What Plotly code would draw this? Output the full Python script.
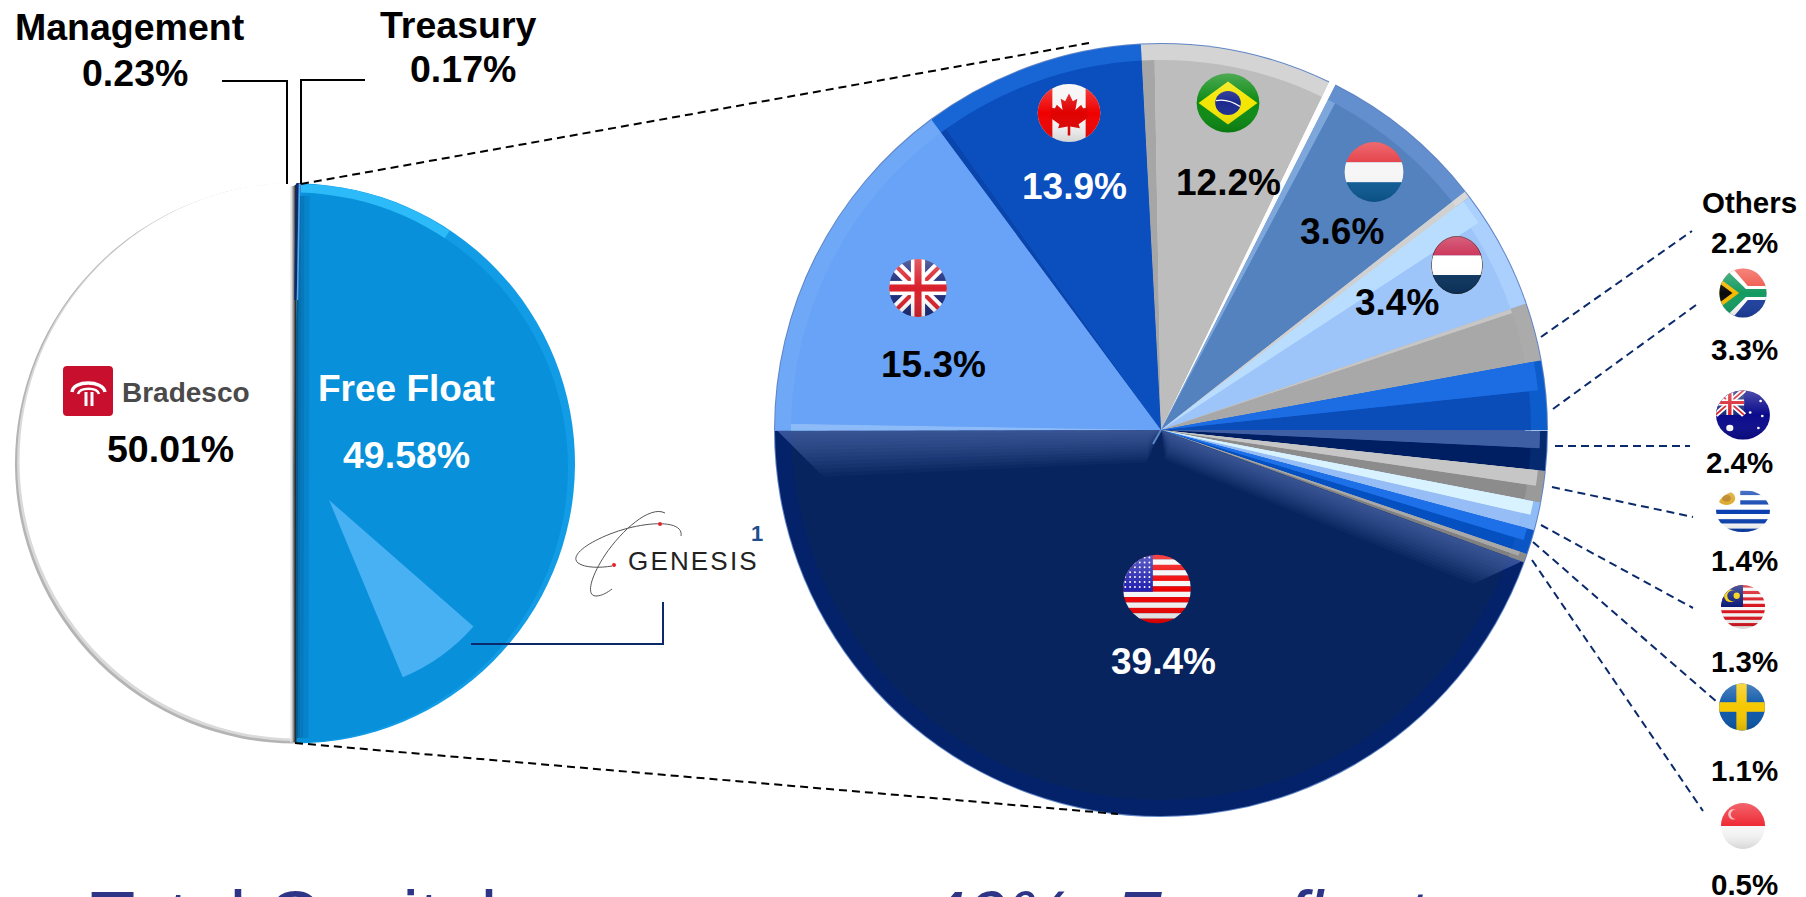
import base64
import math
import plotly.graph_objects as go

W, H = 1806, 897

# ---------- data ----------
ownership_names = ["Free Float", "Bradesco", "Management", "Treasury"]
ownership_shares = [49.58, 50.01, 0.23, 0.17]

# arc widths as drawn (percent of the circle) - the printed labels differ from the drawn arcs
country_names = ["Brazil", "gap a", "Luxembourg", "gap b", "Netherlands", "Others", "South Africa",
                 "Australia", "Uruguay", "Malaysia", "Sweden", "Singapore", "USA", "UK", "Canada"]
country_arcs = [8.0, 0.28, 6.97, 0.28, 5.0, 2.42, 2.89, 1.69, 1.31, 1.17, 1.03, 0.36, 44.4, 14.9, 9.3]
rim_colors = ["#D4D4D4", "#FFFFFF", "#648FCE", "#D8D8D8", "#ABD0FE", "#ABABAB", "#0D5CCC",
              "#062A70", "#9A9A9A", "#8FBBF6", "#0B55C4", "#8A8A8A", "#04226A", "#6EA8F6", "#1866D6"]
face_colors = ["#BDBDBD", "#FFFFFF", "#5482BF", "#D0D0D0", "#9EC5FA", "#A8A8A8", "#0A4DB8",
               "#001F63", "#8C8C8C", "#96BDF5", "#0550C0", "#808080", "#07245F", "#69A3F7", "#0A4FBD"]
# leading part of each face with a lit bevel: (fraction, colour)
lit_fraction = [0.07, 0, 0.05, 0, 0.22, 0.08, 0.42, 0.45, 0.5, 0.5, 0.5, 0.5, 0, 0.02, 0.03]
lit_colors = ["#A6A6A6", "#FFFFFF", "#7DA6DB", "#D0D0D0", "#B9DDFF", "#C6C6C6", "#1C6CE4",
              "#3F5FA5", "#C6C6C6", "#D8F2FF", "#1E70E8", "#A8A8A8", "#07245F", "#8DBBF8", "#0A45AE"]

pie_labels = ["15.3%", "13.9%", "12.2%", "3.6%", "3.4%", "39.4%"]
pie_label_x = [933, 1074, 1228, 1342, 1397, 1163]
pie_label_y = [364, 186, 182, 231, 302, 661]
pie_label_colors = ["#000000", "#FFFFFF", "#000000", "#000000", "#000000", "#FFFFFF"]

side_labels = ["Others", "2.2%", "3.3%", "2.4%", "1.4%", "1.3%", "1.1%", "0.5%"]
side_label_x = [1749, 1744, 1744, 1739, 1744, 1744, 1744, 1744]
side_label_y = [202, 242, 349, 462, 560, 661, 770, 884]

flag_names = ["uk", "ca", "br", "lu", "nl", "us", "za", "au", "uy", "my", "se", "sg"]
flag_x = [918, 1069, 1228, 1374, 1457, 1157, 1743, 1743, 1743, 1743, 1742, 1743]
flag_y = [288, 113, 103, 172, 265, 589, 293, 415, 511, 607, 707, 826]
flag_w = [59, 64, 64, 60, 53, 69, 48, 55, 55, 45, 47, 45]
flag_h = [59, 59, 60, 61, 59, 70, 50, 50, 43, 45, 48, 47]

leader_x0 = [1541, 1553, 1555, 1552, 1541, 1533, 1532]
leader_y0 = [337, 409, 446, 487, 525, 542, 560]
leader_x1 = [1692, 1696, 1690, 1693, 1693, 1718, 1703]
leader_y1 = [231, 305, 446, 517, 608, 703, 811]

# ---------- helpers ----------
ROT_R = -3.0      # right pie starts at Brazil, slightly left of 12 o'clock
RC = (1161, 430)  # right pie centre
R = 387
LC = (295, 463.5) # left pie centre
LR = 280
CLEAR = "rgba(0,0,0,0)"


def pie(values, colors, cx, cy, r, rotation, name):
    return go.Pie(values=values, labels=[f"{name} {i}" for i in range(len(values))],
                  marker=dict(colors=colors, line=dict(width=0)), sort=False, direction="clockwise",
                  rotation=rotation, textinfo="none", hoverinfo="skip", showlegend=False,
                  domain=dict(x=[(cx - r) / W, (cx + r) / W], y=[1 - (cy + r) / H, 1 - (cy - r) / H]))


def label(x, y, text, size, color="#000000", bold=True, italic=False, **kw):
    t = f"<b>{text}</b>" if bold else text
    if italic:
        t = f"<i>{t}</i>"
    return dict(x=x, y=y, xref="x", yref="y", text=t, showarrow=False,
                font=dict(family="Liberation Sans", size=size, color=color), **kw)


def svg_uri(body):
    svg = ('<svg xmlns="http://www.w3.org/2000/svg" viewBox="0 0 100 100" preserveAspectRatio="none">'
           '<defs><clipPath id="c"><ellipse cx="50" cy="50" rx="49" ry="49"/></clipPath>'
           '<linearGradient id="g" x1="0" y1="0" x2="0" y2="1">'
           '<stop offset="0" stop-color="#fff" stop-opacity=".28"/>'
           '<stop offset=".5" stop-color="#fff" stop-opacity="0"/>'
           '<stop offset="1" stop-color="#000" stop-opacity=".14"/></linearGradient></defs>'
           f'<g clip-path="url(#c)">{body}<rect width="100" height="100" fill="url(#g)"/></g></svg>')
    return "data:image/svg+xml;base64," + base64.b64encode(svg.encode()).decode()


def rect(x, y, w, h, c):
    return f'<rect x="{x}" y="{y}" width="{w}" height="{h}" fill="{c}"/>'


def union(w=100, h=100):
    sx, sy = w / 100, h / 100
    return (f'<g transform="scale({sx} {sy})">' + rect(0, 0, 100, 100, "#1B2A7A")
            + '<path d="M0 0L100 100M100 0L0 100" stroke="#fff" stroke-width="20"/>'
            + '<path d="M0 0L100 100M100 0L0 100" stroke="#D8202C" stroke-width="7"/>'
            + rect(38, 0, 24, 100, "#fff") + rect(0, 38, 100, 24, "#fff")
            + rect(44, 0, 12, 100, "#D8202C") + rect(0, 44, 100, 12, "#D8202C") + '</g>')


def stripes(n, a, b, x=0, w=100):
    return "".join(rect(x, i * 100 / n, w, 100 / n + .3, a if i % 2 == 0 else b) for i in range(n))


FLAGS = {
    "uk": union(),
    "ca": rect(0, 0, 100, 100, "#F5F5F5") + rect(0, 0, 24, 100, "#F00000") + rect(76, 0, 24, 100, "#F00000")
          + '<path d="M50 17L56 30L63 26L60 45L69 36L72 42L81 41L77 52L82 56L65 69L67 76L52 73V88H48V73L33 76L35 69'
            'L18 56L23 52L19 41L28 42L31 36L40 45L37 26L44 30Z" fill="#E00000"/>',
    "br": rect(0, 0, 100, 100, "#0B8A12") + '<path d="M50 14L96 50L50 86L4 50Z" fill="#F4E600"/>'
          + '<circle cx="50" cy="50" r="20" fill="#1C2A8E"/>'
            '<path d="M31 46Q50 42 69 56" stroke="#fff" stroke-width="2" fill="none"/>',
    "lu": rect(0, 0, 100, 34, "#E5333B") + rect(0, 34, 100, 33, "#F6F6F6") + rect(0, 67, 100, 33, "#0B5A94"),
    "nl": rect(0, 0, 100, 34, "#C8254C") + rect(0, 34, 100, 33, "#FFFFFF") + rect(0, 67, 100, 33, "#0A335F")
          + '<ellipse cx="50" cy="50" rx="48.5" ry="48.5" fill="none" stroke="#222" stroke-width="1.5"/>',
    "us": stripes(13, "#F00000", "#F6F6F6") + rect(0, 0, 44, 54, "#2323B0")
          + "".join(f'<circle cx="{4 + 7 * i}" cy="{5 + 7 * j}" r="1.4" fill="#fff"/>'
                    for i in range(6) for j in range(7)),
    "za": rect(0, 0, 100, 50, "#F0564A") + rect(0, 50, 100, 50, "#1C3E9E")
          + '<path d="M0 0H28L60 36H100V64H60L28 100H0Z" fill="#fff"/>'
            '<path d="M0 8H20L56 42H100V58H56L20 92H0Z" fill="#149A60"/>'
            '<path d="M0 20L42 50L0 80Z" fill="#F6B800"/><path d="M0 30L28 50L0 70Z" fill="#0A0A0A"/>',
    "au": rect(0, 0, 100, 100, "#0A0A8C") + union(52, 50)
          + "".join(f'<circle cx="{x}" cy="{y}" r="{r}" fill="#fff"/>'
                    for x, y, r in [(26, 76, 6.5), (63, 45, 2.5), (82, 22, 2.5), (85, 52, 2.5), (78, 76, 2.5)]),
    "uy": rect(0, 0, 100, 100, "#FFFFFF") + rect(45, 3, 55, 10, "#0A3FB0") + rect(45, 25, 55, 10, "#0A3FB0")
          + rect(0, 47, 100, 10, "#0A3FB0") + rect(0, 69, 100, 10, "#0A3FB0") + rect(0, 91, 100, 10, "#0A3FB0")
          + '<circle cx="20" cy="20" r="16" fill="#D9A21B"/><circle cx="20" cy="20" r="8" fill="#B5770F"/>',
    "my": stripes(14, "#D8141E", "#F6F6F6") + rect(0, 0, 50, 50, "#0A1A78")
          + '<circle cx="22" cy="25" r="14" fill="#F6D000"/><circle cx="27" cy="25" r="12" fill="#0A1A78"/>'
            '<circle cx="36" cy="25" r="7" fill="#F6D000"/>',
    "se": rect(0, 0, 100, 100, "#0B57A8") + rect(38, 0, 22, 100, "#F5C800") + rect(0, 40, 100, 20, "#F5C800"),
    "sg": rect(0, 0, 100, 50, "#EE2A35") + rect(0, 50, 100, 50, "#F6F6F6")
          + '<circle cx="28" cy="25" r="11" fill="#F7B5B5"/><circle cx="33" cy="25" r="10" fill="#EE2A35"/>',
}

BRADESCO = ('<svg xmlns="http://www.w3.org/2000/svg" viewBox="0 0 100 100" preserveAspectRatio="none">'
            '<rect width="100" height="100" rx="8" fill="#C8102E"/>'
            '<path d="M18 52C20 28 80 28 84 52" stroke="#fff" stroke-width="7" fill="none"/>'
            '<path d="M30 56C34 42 68 42 72 56" stroke="#fff" stroke-width="5" fill="none"/>'
            '<path d="M46 52V80M58 52V80" stroke="#fff" stroke-width="6"/></svg>')

# ---------- traces ----------
traces = [go.Scatter(x=[0, W], y=[0, H], mode="none", hoverinfo="skip", showlegend=False)]

# left pie: free float first, clockwise from just right of 12 o'clock
ROT_L = 1.2
traces.append(pie(ownership_shares, ["#129CE6", "#B4B4B4", "#0B2A6B", "#2F6FD0"], *LC, LR, ROT_L, "edge"))
traces.append(pie(ownership_shares, [CLEAR, "#DADADA", "#0B2A6B", "#2F6FD0"], LC[0] + 1, LC[1] - 1.5, LR - 1, ROT_L, "soft"))
traces.append(pie(ownership_shares, [CLEAR, "#FFFFFF", CLEAR, CLEAR], LC[0] + 2.5, LC[1] - 3, LR - 2, ROT_L, "white"))
# brighter top of the free float rim (drawn arc, percent of the circle)
traces.append(pie([9.0, 91.0], ["#2DBAF8", CLEAR], *LC, LR - 0.5, ROT_L, "glow"))
traces.append(pie(ownership_shares, ["#0890DA", CLEAR, CLEAR, CLEAR], LC[0] - 2, LC[1] + 4, LR - 5, ROT_L, "face"))
# Genesis stake, a lighter wedge on the free float
GEN_ROT = 131.2
traces.append(pie([7.28, 92.72], ["#48B1F4", CLEAR], 329, 500, 192, GEN_ROT, "genesis"))

# right pie: edge, bevel, then face with lit sub-wedges
traces.append(pie(country_arcs, ["#5F84C4" if c != "#FFFFFF" else c for c in rim_colors], *RC, R, ROT_R, "redge"))
traces.append(pie(country_arcs, rim_colors, *RC, R - 1, ROT_R, "rbevel"))
face_vals, face_cols = [], []
for v, f, fc, lc in zip(country_arcs, lit_fraction, face_colors, lit_colors):
    if f > 0:
        face_vals.append(v * f)
        face_cols.append(lc)
    face_vals.append(v * (1 - f))
    face_cols.append(fc)
traces.append(pie(face_vals, face_cols, *RC, R - 17, ROT_R, "rface"))
# the narrow lit wedges keep running out to the rim
rim_vals, rim_cols = [], []
for v, f, rc, lc in zip(country_arcs, lit_fraction, rim_colors, lit_colors):
    if 0.2 < f:
        rim_vals.append(v * f)
        rim_cols.append(lc)
        rim_vals.append(v * (1 - f))
        rim_cols.append(CLEAR)
    else:
        rim_vals.append(v)
        rim_cols.append(CLEAR)
traces.append(pie(rim_vals, rim_cols, *RC, R - 8, ROT_R, "rlit"))

fig = go.Figure(traces)

# ---------- shapes ----------
shapes = []


def line(x0, y0, x1, y1, color, width, dash="solid"):
    shapes.append(dict(type="line", xref="x", yref="y", x0=x0, y0=y0, x1=x1, y1=y1, layer="above",
                       line=dict(color=color, width=width, dash=dash)))


def polyline(points, color, width):
    d = "M" + "L".join(f"{x} {y}" for x, y in points)
    shapes.append(dict(type="path", xref="x", yref="y", path=d, layer="above", line=dict(color=color, width=width)))


def band(angle, side, width, steps, color, opacity):
    """Soft constant-width highlight inside the USA slice along one of its straight edges."""
    a = math.radians(angle)
    dx, dy = math.sin(a), -math.cos(a)
    px, py = side * math.cos(a), side * math.sin(a)
    rr = R - 3
    for k in range(1, steps + 1):
        w = width * k / steps
        pts = [(RC[0] + dx * 14 + px * w * .7, RC[1] + dy * 14 + py * w * .7),
               (RC[0], RC[1]),
               (RC[0] + dx * rr, RC[1] + dy * rr),
               (RC[0] + dx * (rr - w) + px * w, RC[1] + dy * (rr - w) + py * w)]
        d = "M" + "L".join(f"{x:.1f} {y:.1f}" for x, y in pts) + "Z"
        shapes.append(dict(type="path", xref="x", yref="y", path=d, layer="above", fillcolor=color,
                           opacity=opacity, line=dict(width=0)))


usa_start = ROT_R + sum(country_arcs[:12]) * 3.6
usa_end = usa_start + country_arcs[12] * 3.6
band(usa_end, -1, 46, 12, "#8FA9E0", 0.045)
band(usa_start, 1, 38, 12, "#8FA9E0", 0.045)
line(RC[0], RC[1], RC[0] - 8, RC[1] + 14, "#5C86C4", 2)

# shaded seam at the middle of the left pie
seam_x = [291, 292.5, 294, 295.5, 297, 299, 302, 306]
seam_c = ["#E6E6E6", "#B8B8B8", "#6E6E6E", "#2C2C2C", "#035A92", "#0670B0", "#0778BC", "#0783CC"]
seam_w = [1.5, 1.5, 1.5, 2, 2, 2.5, 3.5, 5]
for x, c, w in zip(seam_x, seam_c, seam_w):
    if x < 297:
        line(x, 186 if x < 295 else 185, x, 742, c, w)
    else:
        line(x + 1, 196, x, 738, c, w)
line(297, 184, 295.5, 300, "#0B2A6B", 2.5)
line(299.5, 184, 297.5, 300, "#5FA8E8", 1.5)

# leader lines of the left pie
polyline([(222, 81), (287, 81), (287, 184)], "#000000", 2)
polyline([(365, 80), (301, 80), (301, 184)], "#000000", 2)
line(301, 184, 1089, 43, "#000000", 2, "8px,5px")
line(295, 743, 1118, 814, "#000000", 2, "8px,5px")
polyline([(471, 644), (663, 644), (663, 602)], "#0B2A6B", 2)

# Genesis orbits
shapes.append(dict(type="path", xref="x", yref="y", layer="above", line=dict(color="#555555", width=1),
                   path="M681 536C684 518 640 522 610 534C585 544 570 556 578 563C585 568 600 568 612 566"))
shapes.append(dict(type="path", xref="x", yref="y", layer="above", line=dict(color="#555555", width=1),
                   path="M665 513C650 505 622 530 605 555C590 578 586 596 596 596C602 596 608 592 612 589"))
for x, y in [(660, 524), (614, 565)]:
    shapes.append(dict(type="circle", xref="x", yref="y", x0=x - 2, x1=x + 2, y0=y - 2, y1=y + 2, layer="above",
                       fillcolor="#E8202C", line=dict(width=0)))

# leaders of the small countries
for x0, y0, x1, y1 in zip(leader_x0, leader_y0, leader_x1, leader_y1):
    line(x0, y0, x1, y1, "#0B2A6B", 2, "8px,5px")

# ---------- images ----------
images = [dict(source=svg_uri(FLAGS[n]), xref="x", yref="y", x=x, y=y, sizex=w, sizey=h, sizing="stretch",
               xanchor="center", yanchor="middle", layer="above")
          for n, x, y, w, h in zip(flag_names, flag_x, flag_y, flag_w, flag_h)]
images.append(dict(source="data:image/svg+xml;base64," + base64.b64encode(BRADESCO.encode()).decode(),
                   xref="x", yref="y", x=88, y=391, sizex=50, sizey=50, sizing="stretch",
                   xanchor="center", yanchor="middle", layer="above"))

# ---------- text ----------
ann = []
for t, x, y, c in zip(pie_labels, pie_label_x, pie_label_y, pie_label_colors):
    ann.append(label(x, y, t, 37, c))
for t, x, y in zip(side_labels, side_label_x, side_label_y):
    ann.append(label(x, y, t, 29.5))
ann += [
    label(130, 27, "Management", 37.5),
    label(135, 73, "0.23%", 37.5),
    label(458, 25, "Treasury", 37.5),
    label(463, 69, "0.17%", 37.5),
    label(406, 388, "Free Float", 37, "#FFFFFF"),
    label(406, 455, "49.58%", 37.5, "#FFFFFF"),
    label(170, 449, "50.01%", 37.5),
    label(186, 392, "Bradesco", 28, "#4A4A4A"),
    label(692, 561, "G\u200aE\u200aN\u200aE\u200aS\u200aI\u200aS", 26, "#222222", bold=False),
    label(757, 533, "1", 22, "#1F4E8C"),
    label(88, 874, "Total Capital", 74, "#2E3586", bold=False, xanchor="left", yanchor="top"),
    label(922, 874, "40%\u00a0\u00a0Free float", 74, "#2E3586", bold=False, italic=True, xanchor="left", yanchor="top"),
]

fig.update_layout(
    width=W, height=H, margin=dict(l=0, r=0, t=0, b=0, pad=0), autosize=False,
    paper_bgcolor="#FFFFFF", plot_bgcolor="#FFFFFF", showlegend=False,
    xaxis=dict(range=[0, W], visible=False, fixedrange=True),
    yaxis=dict(range=[H, 0], visible=False, fixedrange=True),
    shapes=shapes, images=images, annotations=ann,
)

fig.write_html("out.html", config=dict(displayModeBar=False),
               post_script="document.body.style.margin='0';document.body.style.overflow='hidden';")
